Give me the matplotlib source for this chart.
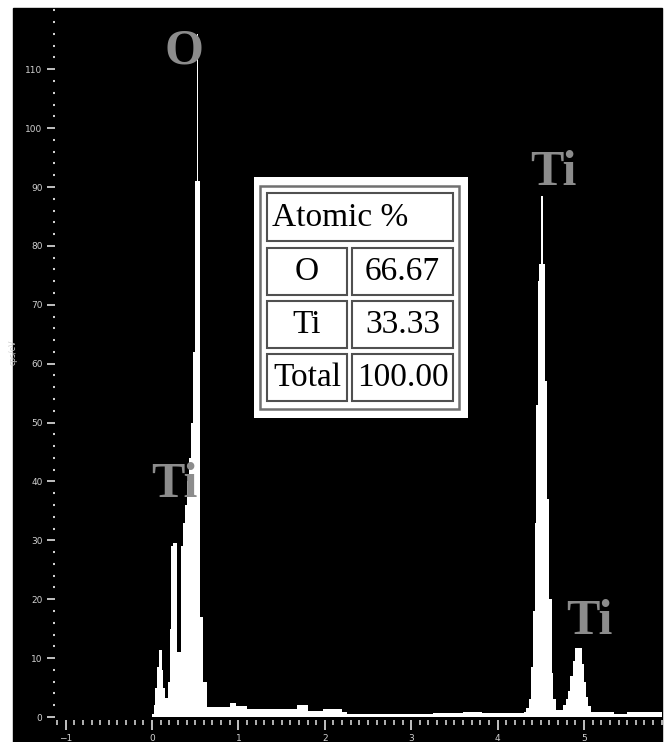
import matplotlib
matplotlib.use("Agg")
import matplotlib.pyplot as plt
from matplotlib.patches import Rectangle
from matplotlib.ticker import MultipleLocator

# EDS spectrum (energy in keV = left edge of each step)
energy_kev = [0.00, 0.02, 0.04, 0.06, 0.08, 0.11, 0.125, 0.15, 0.185, 0.205,
              0.225, 0.24, 0.293, 0.333, 0.355, 0.38, 0.41, 0.43, 0.45, 0.475,
              0.50, 0.52, 0.535, 0.55, 0.56, 0.595, 0.635, 0.90, 0.97, 1.10,
              1.68, 1.80, 1.98, 2.20, 2.26, 3.25, 3.60, 3.82, 4.30, 4.33,
              4.36, 4.39, 4.41, 4.43, 4.45, 4.465, 4.48, 4.505, 4.525, 4.55,
              4.575, 4.60, 4.625, 4.645, 4.68, 4.76, 4.79, 4.81, 4.84, 4.87,
              4.90, 4.975, 4.995, 5.02, 5.05, 5.08, 5.35, 5.50, 5.90]
counts = [0.5, 2.0, 5.0, 8.5, 11.4, 8.0, 5.0, 3.2, 6.0, 15.0,
          29.0, 29.5, 11.0, 29.0, 33.0, 36.0, 40.0, 44.0, 50.0, 62.0,
          91.0, 116.0, 91.0, 52.0, 17.0, 6.0, 1.75, 2.4, 1.9, 1.4,
          2.0, 1.0, 1.3, 0.9, 0.6, 0.7, 0.9, 0.7, 0.8, 1.5,
          3.0, 8.5, 18.0, 33.0, 53.0, 74.0, 77.0, 88.5, 77.0, 57.0,
          37.0, 20.0, 7.5, 3.0, 1.2, 2.0, 3.0, 4.5, 7.0, 9.5,
          11.7, 9.0, 6.0, 3.4, 1.8, 0.8, 0.6, 0.9, 0.6]

# peak labels: element, energy (keV), height (cps/eV)
peak_names = ["O", "Ti", "Ti", "Ti"]
peak_x = [0.37, 0.255, 4.64, 5.06]
peak_y = [113.0, 39.4, 92.4, 16.1]

# quantification table
table_elements = ["O", "Ti", "Total"]
table_values = ["66.67", "33.33", "100.00"]

W, H = 667, 742
fig = plt.figure(figsize=(W / 100, H / 100), dpi=100)
fig.patch.set_facecolor("white")
fig.add_artist(Rectangle((13 / W, 0), (662 - 13) / W, (H - 8) / H,
                         transform=fig.transFigure, color="black", zorder=0))

ax = fig.add_axes([55 / W, (H - 720) / H, (662 - 55) / W, (720 - 8) / H])
ax.set_facecolor("black")
ax.fill_between(energy_kev + [5.90], counts + [counts[-1]], 0, step="post",
                color="white", lw=0)

ax.set_xlim(-1.123, 5.903)
ax.set_ylim(-0.5, 120.4)
for s in ax.spines.values():
    s.set_visible(False)

tc = "#d0d0d0"
ax.set_xticks(range(-1, 6))
ax.xaxis.set_minor_locator(MultipleLocator(0.1))
ax.set_yticks(range(0, 111, 10))
ax.yaxis.set_minor_locator(MultipleLocator(2))
ax.tick_params(axis="both", which="major", colors=tc, labelsize=6.5, width=1.3)
ax.tick_params(axis="x", which="major", length=7, pad=3)
ax.tick_params(axis="y", which="major", length=6, pad=3)
ax.tick_params(axis="x", which="minor", colors=tc, length=3.5, width=1.2)
ax.tick_params(axis="y", which="minor", colors=tc, length=1.5, width=1.5)
ax.set_ylabel("cps/eV", color=tc, fontsize=5.5)
ax.yaxis.set_label_coords((18 - 55) / 607, (720 - 352) / 712)

for name, x, y in zip(peak_names, peak_x, peak_y):
    ax.text(x, y, name, ha="center", va="center", color="#8c8c8c",
            family="Liberation Serif", weight="bold", fontsize=36, zorder=5)

# table overlay, drawn in pixel units
tab = fig.add_axes([0, 0, 1, 1])
tab.set_xlim(0, W)
tab.set_ylim(H, 0)
tab.axis("off")
tab.add_patch(Rectangle((254, 177), 214, 241, facecolor="white", edgecolor="none"))
tab.add_patch(Rectangle((260, 186), 199, 223, facecolor="none", edgecolor="#707070", lw=1.8))
tab.add_patch(Rectangle((267, 193), 186, 48, facecolor="none", edgecolor="#505050", lw=1.5))
tab.text(272, 218, "Atomic %", ha="left", va="center", fontsize=24,
         family="Liberation Serif", color="black")
row_top = [248, 301, 354]
for top, el, val in zip(row_top, table_elements, table_values):
    tab.add_patch(Rectangle((267, top), 80, 47, facecolor="none", edgecolor="#505050", lw=1.5))
    tab.add_patch(Rectangle((352, top), 101, 47, facecolor="none", edgecolor="#505050", lw=1.5))
    tab.text(307, top + 24, el, ha="center", va="center", fontsize=24,
             family="Liberation Serif", color="black")
    tab.text(402.5, top + 24, val, ha="center", va="center", fontsize=24,
             family="Liberation Serif", color="black")

fig.savefig("out.png", dpi=100, facecolor="white")
